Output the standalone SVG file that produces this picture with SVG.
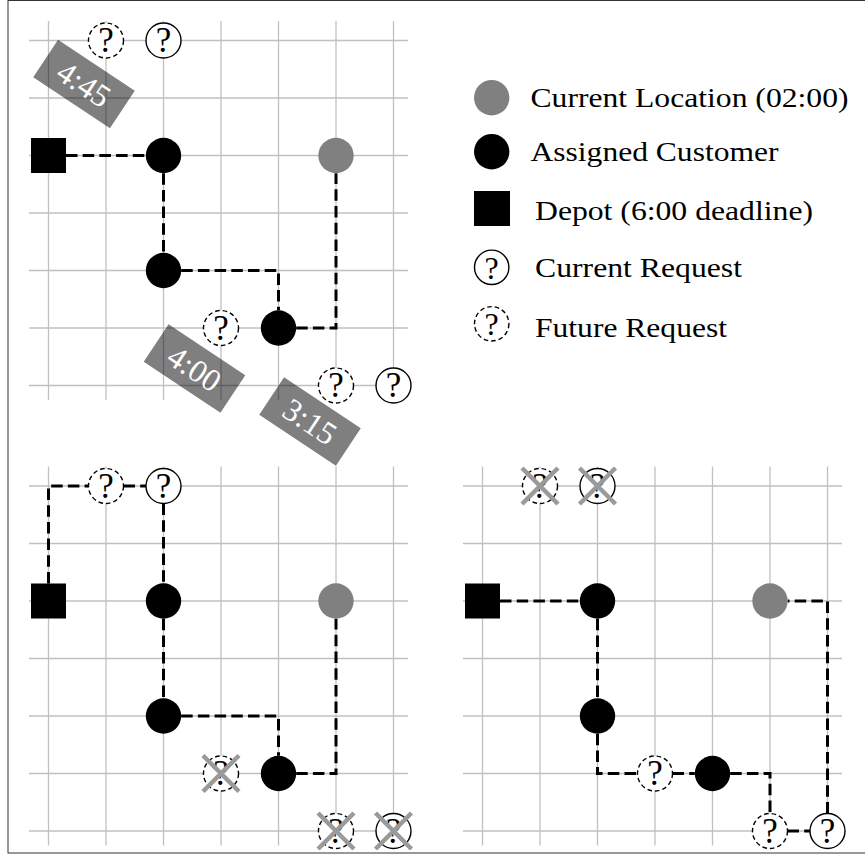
<svg xmlns="http://www.w3.org/2000/svg" width="865" height="864" viewBox="0 0 865 864">
  <style>
    .grid line { stroke: #c0c0c0; stroke-width: 1.3; }
    .edge { fill: none; stroke: #000; stroke-width: 3; stroke-dasharray: 11.5 5.2; }
    .cust { fill: #000; }
    .cur { fill: #808080; }
    .depot { fill: #000; }
    .req { fill: #fff; stroke: #000; stroke-width: 1.4; }
    .future { stroke-dasharray: 4.6 3; }
    .q { font-family: "Liberation Serif", "DejaVu Serif", serif; font-size: 35px; text-anchor: middle; fill: #000; }
    .tag rect { fill: #000; fill-opacity: 0.5; }
    .tag text { fill: #fff; font-family: "Liberation Serif", "DejaVu Serif", serif; font-size: 32px; text-anchor: middle; }
    .cross { stroke: #9a9a9a; stroke-width: 4.5; }
    .legend text { font-family: "Liberation Serif", "DejaVu Serif", serif; font-size: 28px; fill: #000; }
  </style>
  <defs>
    <!-- 7x7 grid, spacing 57.5, origin at the first crossing -->
    <g id="grid" class="grid">
      <line x1="-19.5" y1="0" x2="359.5" y2="0"/>
      <line x1="-19.5" y1="57.5" x2="359.5" y2="57.5"/>
      <line x1="-19.5" y1="115" x2="359.5" y2="115"/>
      <line x1="-19.5" y1="172.5" x2="359.5" y2="172.5"/>
      <line x1="-19.5" y1="230" x2="359.5" y2="230"/>
      <line x1="-19.5" y1="287.5" x2="359.5" y2="287.5"/>
      <line x1="-19.5" y1="345" x2="359.5" y2="345"/>
      <line x1="0" y1="-19.5" x2="0" y2="359.5"/>
      <line x1="57.5" y1="-19.5" x2="57.5" y2="359.5"/>
      <line x1="115" y1="-19.5" x2="115" y2="359.5"/>
      <line x1="172.5" y1="-19.5" x2="172.5" y2="359.5"/>
      <line x1="230" y1="-19.5" x2="230" y2="359.5"/>
      <line x1="287.5" y1="-19.5" x2="287.5" y2="359.5"/>
      <line x1="345" y1="-19.5" x2="345" y2="359.5"/>
    </g>
  </defs>

  <rect x="8" y="0.5" width="870" height="852.5" fill="#fff" stroke="#333" stroke-width="1"/>

  <!-- Panel 1: current plan -->
  <g id="panel-top" transform="translate(48.5,40.5)">
    <use href="#grid"/>
  </g>

  <!-- time-to-go tags -->
  <g id="tags" class="tag">
    <g id="tag-445" transform="translate(84,84) rotate(33.5)">
      <rect x="-46" y="-22.5" width="92" height="45"/>
      <text x="0" y="11">4:45</text>
    </g>
    <g id="tag-400" transform="translate(194.5,368.5) rotate(33.5)">
      <rect x="-46" y="-22.5" width="92" height="45"/>
      <text x="0" y="11">4:00</text>
    </g>
    <g id="tag-315" transform="translate(310,421.5) rotate(33.5)">
      <rect x="-46" y="-22.5" width="92" height="45"/>
      <text x="0" y="11">3:15</text>
    </g>
  </g>

  <g transform="translate(48.5,40.5)">
    <g id="edges-top">
      <path class="edge" d="M17.5,115 H97.3"/>
      <path class="edge" d="M115,132.7 V212.3"/>
      <path class="edge" d="M132.7,230 H230 V269.8"/>
      <path class="edge" d="M247.7,287.5 H287.5 V132.7"/>
    </g>
    <g id="top-depot"><rect class="depot" x="-17.5" y="97.5" width="35" height="35"/></g>
    <g id="top-c1"><circle class="cust" cx="115" cy="115" r="17.7"/></g>
    <g id="top-c2"><circle class="cust" cx="115" cy="230" r="17.7"/></g>
    <g id="top-c3"><circle class="cust" cx="230" cy="287.5" r="17.7"/></g>
    <g id="top-loc"><circle class="cur" cx="287.5" cy="115" r="17.7"/></g>
    <g id="top-f1"><circle class="req future" cx="57.5" cy="0" r="17.5"/><text class="q" x="57.5" y="11.5">?</text></g>
    <g id="top-r1"><circle class="req" cx="115" cy="0" r="17.5"/><text class="q" x="115" y="11.5">?</text></g>
    <g id="top-f2"><circle class="req future" cx="172.5" cy="287.5" r="17.5"/><text class="q" x="172.5" y="299">?</text></g>
    <g id="top-f3"><circle class="req future" cx="287.5" cy="345" r="17.5"/><text class="q" x="287.5" y="356.5">?</text></g>
    <g id="top-r2"><circle class="req" cx="345" cy="345" r="17.5"/><text class="q" x="345" y="356.5">?</text></g>
  </g>

  <!-- Panel 2: route that serves the requests near the depot -->
  <g id="panel-left" transform="translate(48.5,486)">
    <use href="#grid"/>
    <g id="edges-left">
      <path class="edge" d="M0,97.5 V0 H40"/>
      <path class="edge" d="M75,0 H97.5"/>
      <path class="edge" d="M115,17.5 V97.3"/>
      <path class="edge" d="M115,132.7 V212.3"/>
      <path class="edge" d="M132.7,230 H230 V269.8"/>
      <path class="edge" d="M247.7,287.5 H287.5 V132.7"/>
    </g>
    <g id="left-depot"><rect class="depot" x="-17.5" y="97.5" width="35" height="35"/></g>
    <g id="left-c1"><circle class="cust" cx="115" cy="115" r="17.7"/></g>
    <g id="left-c2"><circle class="cust" cx="115" cy="230" r="17.7"/></g>
    <g id="left-c3"><circle class="cust" cx="230" cy="287.5" r="17.7"/></g>
    <g id="left-loc"><circle class="cur" cx="287.5" cy="115" r="17.7"/></g>
    <g id="left-f1"><circle class="req future" cx="57.5" cy="0" r="17.5"/><text class="q" x="57.5" y="11.5">?</text></g>
    <g id="left-r1"><circle class="req" cx="115" cy="0" r="17.5"/><text class="q" x="115" y="11.5">?</text></g>
    <g id="left-f2"><circle class="req future" cx="172.5" cy="287.5" r="17.5"/><text class="q" x="172.5" y="299">?</text>
      <path class="cross" d="M154.5,269.5 L190.5,305.5 M190.5,269.5 L154.5,305.5"/></g>
    <g id="left-f3"><circle class="req future" cx="287.5" cy="345" r="17.5"/><text class="q" x="287.5" y="356.5">?</text>
      <path class="cross" d="M269.5,327 L305.5,363 M305.5,327 L269.5,363"/></g>
    <g id="left-r2"><circle class="req" cx="345" cy="345" r="17.5"/><text class="q" x="345" y="356.5">?</text>
      <path class="cross" d="M327,327 L363,363 M363,327 L327,363"/></g>
  </g>

  <!-- Panel 3: route that serves the requests near the current location -->
  <g id="panel-right" transform="translate(482.5,486)">
    <use href="#grid"/>
    <g id="edges-right">
      <path class="edge" d="M17.5,115 H97.3"/>
      <path class="edge" d="M115,132.7 V212.3"/>
      <path class="edge" d="M115,247.7 V287.5 H155"/>
      <path class="edge" d="M190,287.5 H212.3"/>
      <path class="edge" d="M247.7,287.5 H287.5 V327.5"/>
      <path class="edge" d="M305,345 H327.5"/>
      <path class="edge" d="M345,327.5 V115 H305.2"/>
    </g>
    <g id="right-depot"><rect class="depot" x="-17.5" y="97.5" width="35" height="35"/></g>
    <g id="right-c1"><circle class="cust" cx="115" cy="115" r="17.7"/></g>
    <g id="right-c2"><circle class="cust" cx="115" cy="230" r="17.7"/></g>
    <g id="right-c3"><circle class="cust" cx="230" cy="287.5" r="17.7"/></g>
    <g id="right-loc"><circle class="cur" cx="287.5" cy="115" r="17.7"/></g>
    <g id="right-f1"><circle class="req future" cx="57.5" cy="0" r="17.5"/><text class="q" x="57.5" y="11.5">?</text>
      <path class="cross" d="M39.5,-18 L75.5,18 M75.5,-18 L39.5,18"/></g>
    <g id="right-r1"><circle class="req" cx="115" cy="0" r="17.5"/><text class="q" x="115" y="11.5">?</text>
      <path class="cross" d="M97,-18 L133,18 M133,-18 L97,18"/></g>
    <g id="right-f2"><circle class="req future" cx="172.5" cy="287.5" r="17.5"/><text class="q" x="172.5" y="299">?</text></g>
    <g id="right-f3"><circle class="req future" cx="287.5" cy="345" r="17.5"/><text class="q" x="287.5" y="356.5">?</text></g>
    <g id="right-r2"><circle class="req" cx="345" cy="345" r="17.5"/><text class="q" x="345" y="356.5">?</text></g>
  </g>

  <!-- Legend -->
  <g id="legend" class="legend">
    <g id="legend-loc">
      <circle class="cur" cx="491.7" cy="97.7" r="17.7"/>
      <text x="530.5" y="107.3" textLength="318" lengthAdjust="spacingAndGlyphs">Current Location (02:00)</text>
    </g>
    <g id="legend-cust">
      <circle class="cust" cx="491.7" cy="151.7" r="17.7"/>
      <text x="530.5" y="160.7" textLength="248" lengthAdjust="spacingAndGlyphs">Assigned Customer</text>
    </g>
    <g id="legend-depot">
      <rect class="depot" x="474" y="191" width="36" height="35"/>
      <text x="535" y="220" textLength="278" lengthAdjust="spacingAndGlyphs">Depot (6:00 deadline)</text>
    </g>
    <g id="legend-req">
      <circle class="req" cx="491.7" cy="267.3" r="17.2"/>
      <text class="q" x="491.7" y="278.5" style="font-size:32px">?</text>
      <text x="535" y="277.3" textLength="207" lengthAdjust="spacingAndGlyphs">Current Request</text>
    </g>
    <g id="legend-future">
      <circle class="req future" cx="491.7" cy="323.8" r="17.2"/>
      <text class="q" x="491.7" y="335" style="font-size:32px">?</text>
      <text x="535" y="336.7" textLength="192" lengthAdjust="spacingAndGlyphs">Future Request</text>
    </g>
  </g>
</svg>
